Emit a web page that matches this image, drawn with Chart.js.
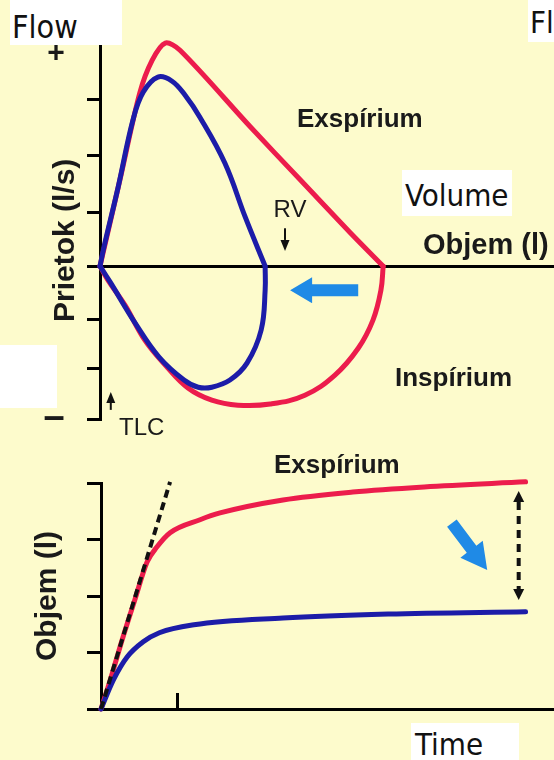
<!DOCTYPE html>
<html>
<head>
<meta charset="utf-8">
<script src="https://cdn.jsdelivr.net/npm/chart.js@4.4.0/dist/chart.umd.min.js"></script>
<style>
  html, body { margin: 0; padding: 0; }
  body { width: 554px; height: 760px; background: #fdfbcc; position: relative; overflow: hidden; }
  canvas { position: absolute; left: 0; }
  #loop { top: 0; }
  #spiro { top: 440px; }
  .tag { position: absolute; background: #fff; color: #111; line-height: 1;
         font-family: 'Liberation Sans Narrow', 'Arial Narrow', 'DejaVu Sans Condensed', sans-serif;
         font-size: 31px; box-sizing: border-box; white-space: nowrap; overflow: hidden; }
</style>
</head>
<body>
<canvas id="loop" width="554" height="440"></canvas>
<canvas id="spiro" width="554" height="320"></canvas>

<div class="tag" style="left:10px;top:0;width:112px;height:45px;padding:11px 0 0 2px;font-size:32px">Flow</div>
<div class="tag" style="left:528px;top:0;width:26px;height:42px;padding:7px 0 0 2px">Fl</div>
<div class="tag" style="left:402px;top:170px;width:110px;height:46px;padding:10px 0 0 3px">Volume</div>
<div class="tag" style="left:0;top:345px;width:57px;height:63px"></div>
<div class="tag" style="left:411px;top:723px;width:108px;height:37px;padding:6px 0 0 4px">Time</div>

<script>
// ---- Flow–volume loop: volume exhaled from TLC (l), flow (l/s) ----
// normal subject, expiration (TLC -> RV)
const normalExpVolume = [0, 0.35, 0.70, 0.92, 1.15, 1.41, 2.64, 3.52, 4.41, 4.99];
const normalExpFlow   = [0, 3.11, 6.26, 7.45, 8.07, 7.81, 5.06, 3.14, 1.21, 0];
// normal subject, inspiration (RV -> TLC)
const normalInspVolume = [4.99, 4.95, 4.81, 4.55, 4.14, 3.61, 3.00, 2.43, 1.97, 1.55, 1.15, 0.79, 0.44, 0.14, 0];
const normalInspFlow   = [0, -0.87, -1.95, -2.97, -3.94, -4.67, -4.99, -5.03, -4.85, -4.41, -3.58, -2.68, -1.41, -0.51, 0];
// restricted subject, expiration
const restrictExpVolume = [0, 0.07, 0.32, 0.58, 0.76, 1.02, 1.27, 1.50, 1.76, 2.20, 2.56, 2.91];
const restrictExpFlow   = [0, 0.69, 2.86, 5.28, 6.29, 6.84, 6.69, 6.18, 5.39, 3.73, 1.77, 0];
// restricted subject, inspiration
const restrictInspVolume = [2.91, 2.91, 2.84, 2.59, 2.29, 1.97, 1.73, 1.48, 1.04, 0.62, 0.18, 0];
const restrictInspFlow   = [0, -0.87, -2.31, -3.51, -4.12, -4.38, -4.38, -4.12, -3.29, -2.06, -0.58, 0];
// flow axis tick marks; the two ends carry the sign of the flow
const flowTicks  = [-5.53, -3.69, -1.92, 0, 1.95, 4.01, 6.04];
const flowTop    = 8;
const flowSigns  = [{ label: '+', value: 7.7 }, { label: '\u2013', value: -5.53 }];

// ---- Volume–time curves: time (s), exhaled volume ----
const timeNormal    = [0, 0.12, 0.27, 0.44, 0.60, 0.73, 0.90, 1.29, 1.55, 2.37, 3.28, 4.21, 5.53];
const volumeNormal  = [0, 0.51, 1.20, 1.93, 2.60, 2.87, 3.12, 3.35, 3.47, 3.70, 3.84, 3.93, 4.02];
const timeRestrict  = [0, 0.16, 0.34, 0.55, 0.76, 1.21, 2.37, 3.74, 5.53];
const volumeRestrict= [0, 0.51, 0.92, 1.19, 1.35, 1.49, 1.61, 1.68, 1.72];
const tangentTime   = [0, 0.90];
const tangentVolume = [0, 4.02];
const volumeTicks   = [0, 1, 2, 3, 4];
const timeTicks     = [1];

const RED = '#ec1c4c';
const BLUE = '#1c1ca8';
const ARROW_BLUE = '#1f8ae6';
const SANS = '"Liberation Sans", Arial, sans-serif';
const BOLD = 'bold 26px ' + SANS;
const PLAIN = '24px ' + SANS;

const zip = (xs, ys) => xs.map((v, i) => ({ x: v, y: ys[i] }));

function curve(data, color, extra) {
  return Object.assign({
    data, showLine: true, borderColor: color, borderWidth: 5, pointRadius: 0, fill: false,
    tension: 0.4, clip: false, borderCapStyle: 'round', borderJoinStyle: 'round'
  }, extra || {});
}

function arrowPath(ctx, a, x1, y1, x2, y2) {
  const ang = Math.atan2(y2 - y1, x2 - x1);
  const len = Math.hypot(x2 - x1, y2 - y1);
  ctx.save();
  ctx.translate(x1, y1);
  ctx.rotate(ang);
  if (a.kind === 'block') {
    const s = a.shaft / 2, h = a.headWidth / 2, L = len - a.headLength;
    ctx.fillStyle = a.color;
    ctx.beginPath();
    ctx.moveTo(0, -s); ctx.lineTo(L, -s); ctx.lineTo(L, -h); ctx.lineTo(len, 0);
    ctx.lineTo(L, h); ctx.lineTo(L, s); ctx.lineTo(0, s); ctx.closePath();
    ctx.fill();
  } else {
    const heads = a.kind === 'double' ? [0, len] : [len];
    const start = a.kind === 'double' ? a.headLength : 0;
    ctx.strokeStyle = a.color; ctx.fillStyle = a.color; ctx.lineWidth = a.width;
    ctx.setLineDash(a.dash || []);
    ctx.beginPath(); ctx.moveTo(start, 0); ctx.lineTo(len - a.headLength, 0); ctx.stroke();
    ctx.setLineDash([]);
    heads.forEach(p => {
      const dir = p === 0 ? -1 : 1;
      ctx.beginPath();
      ctx.moveTo(p, 0);
      ctx.lineTo(p - dir * a.headLength, -a.headWidth / 2);
      ctx.lineTo(p - dir * a.headLength, a.headWidth / 2);
      ctx.closePath(); ctx.fill();
    });
  }
  ctx.restore();
}

// draws free labels and arrows; a label with a `value` sits at that y value
const notes = {
  id: 'notes',
  afterDatasetsDraw(chart, args, opts) {
    const { ctx } = chart;
    const xs = chart.scales.x, ys = chart.scales.y;
    ctx.save();
    (opts.arrows || []).forEach(a => arrowPath(ctx, a,
      xs.getPixelForValue(a.from[0]), ys.getPixelForValue(a.from[1]),
      xs.getPixelForValue(a.to[0]), ys.getPixelForValue(a.to[1])));
    (opts.texts || []).forEach(t => {
      ctx.font = t.font; ctx.fillStyle = t.color || '#1a1a1a';
      ctx.textAlign = t.align || 'left'; ctx.textBaseline = 'middle';
      const y = t.value !== undefined ? ys.getPixelForValue(t.value) : t.y;
      ctx.fillText(t.text, t.x, y);
    });
    ctx.restore();
  }
};

// fixed axis widths; labels at the ends must not shrink the plot area
const fixWidth = w => s => { s.width = w; s.paddingTop = 0; s.paddingBottom = 0; };

Chart.defaults.animation = false;
Chart.defaults.responsive = false;
Chart.defaults.plugins.legend.display = false;
Chart.defaults.plugins.tooltip.enabled = false;

new Chart(document.getElementById('loop'), {
  type: 'scatter',
  data: {
    datasets: [
      curve(zip(restrictExpVolume, restrictExpFlow), BLUE),
      curve(zip(restrictInspVolume, restrictInspFlow), BLUE),
      curve(zip(normalExpVolume, normalExpFlow), RED, { tension: 0.3 }),
      curve(zip(normalInspVolume, normalInspFlow), RED)
    ]
  },
  options: {
    layout: { padding: { top: 45, bottom: 21, left: 0, right: 0 } },
    scales: {
      x: {
        type: 'linear', min: 0, max: 8, position: { y: 0 },
        ticks: { display: false },
        grid: { display: false },
        border: { display: true, color: '#000', width: 3 },
        afterFit: s => { s.height = 0; s.paddingLeft = 0; s.paddingRight = 0; }
      },
      y: {
        type: 'linear', min: flowTicks[0], max: flowTop,
        afterBuildTicks: s => { s.ticks = flowTicks.map(v => ({ value: v })); },
        ticks: { display: false },
        grid: { drawOnChartArea: false, tickLength: 13, lineWidth: 3, color: '#000' },
        border: { display: true, color: '#000', width: 3 },
        title: {
          display: true, text: 'Prietok (l/s)  ', color: '#1a1a1a',
          font: { family: SANS, size: 30, weight: 'bold' },
          padding: { top: 48, bottom: 0 }
        },
        afterFit: fixWidth(100)
      }
    },
    plugins: {
      notes: {
        arrows: [
          { kind: 'block', from: [4.55, -0.87], to: [3.35, -0.87], color: ARROW_BLUE, shaft: 12, headWidth: 26, headLength: 22 },
          { kind: 'single', from: [3.26, 1.37], to: [3.26, 0.55], color: '#111', width: 2, headLength: 11, headWidth: 9 },
          { kind: 'single', from: [0.19, -5.20], to: [0.19, -4.55], color: '#111', width: 2, headLength: 11, headWidth: 9 }
        ],
        texts: [
          { text: flowSigns[0].label, value: flowSigns[0].value, x: 56, font: 'bold 30px ' + SANS, align: 'center' },
          { text: flowSigns[1].label, value: flowSigns[1].value, x: 54, font: 'bold 38px ' + SANS, align: 'center' },
          { text: 'Exspírium', x: 297, y: 120, font: BOLD },
          { text: 'Objem (l)', x: 423, y: 246, font: 'bold 29px ' + SANS },
          { text: 'Inspírium', x: 395, y: 379, font: BOLD },
          { text: 'RV', x: 290, y: 210, font: PLAIN, align: 'center' },
          { text: 'TLC', x: 119, y: 428, font: PLAIN }
        ]
      }
    }
  },
  plugins: [notes]
});

new Chart(document.getElementById('spiro'), {
  type: 'scatter',
  data: {
    datasets: [
      curve(zip(tangentTime, tangentVolume), '#111', { borderWidth: 4, borderDash: [8, 5], tension: 0, borderCapStyle: 'butt' }),
      curve(zip(timeRestrict, volumeRestrict), BLUE, { cubicInterpolationMode: 'monotone' }),
      curve(zip(timeNormal, volumeNormal), RED, { cubicInterpolationMode: 'monotone' })
    ]
  },
  options: {
    layout: { padding: { top: 43, bottom: 0, left: 0, right: 0 } },
    scales: {
      x: {
        type: 'linear', min: 0, max: 5.9, position: 'bottom',
        afterBuildTicks: s => { s.ticks = timeTicks.map(v => ({ value: v })); },
        ticks: { display: false },
        grid: { drawOnChartArea: false, tickLength: -16, lineWidth: 3, color: '#000' },
        border: { display: true, color: '#000', width: 3 },
        afterFit: s => { s.height = 51; s.paddingLeft = 0; s.paddingRight = 0; }
      },
      y: {
        type: 'linear', min: 0, max: 4,
        afterBuildTicks: s => { s.ticks = volumeTicks.map(v => ({ value: v })); },
        ticks: { display: false },
        grid: { drawOnChartArea: false, tickLength: 14, lineWidth: 3, color: '#000' },
        border: { display: true, color: '#000', width: 3 },
        title: {
          display: true, text: 'Objem (l)', color: '#1a1a1a',
          font: { family: SANS, size: 30, weight: 'bold' },
          padding: { top: 30, bottom: 0 }
        },
        afterFit: fixWidth(101)
      }
    },
    plugins: {
      notes: {
        arrows: [
          { kind: 'block', from: [4.57, 3.29], to: [5.03, 2.46], color: ARROW_BLUE, shaft: 12, headWidth: 28, headLength: 26 },
          { kind: 'double', from: [5.44, 3.86], to: [5.44, 1.93], color: '#111', width: 4, dash: [8, 6], headLength: 11, headWidth: 11 }
        ],
        texts: [
          { text: 'Exspírium', x: 274, y: 26, font: BOLD }
        ]
      }
    }
  },
  plugins: [notes]
});
</script>
</body>
</html>
